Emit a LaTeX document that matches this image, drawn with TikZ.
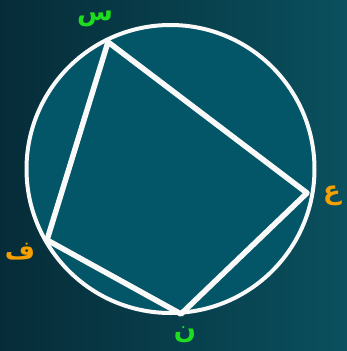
\documentclass[tikz,border=0pt]{standalone}
\usepackage{fontspec}
\TeXXeTstate=1
\newfontfamily\arabicfont[Script=Arabic]{DejaVu Sans}
\definecolor{bgdark}{RGB}{6,44,56}
\definecolor{bglight}{RGB}{10,80,94}
\definecolor{disc}{RGB}{3,86,103}
\definecolor{lblgreen}{RGB}{30,220,30}
\definecolor{lblorange}{RGB}{245,160,0}
\tikzset{
  rim/.style={draw=white!95!gray, line width=4pt},
  side/.style={draw=white!95!gray, line width=5.5pt, line join=round},
  vlabel/.style={font=\arabicfont\bfseries\fontsize{26}{30}\selectfont, inner sep=0pt, anchor=base}
}
\begin{document}
\begin{tikzpicture}[x=1pt,y=-1pt]
\useasboundingbox (0,0) rectangle (347,351);
\shade[shading angle=120, left color=bgdark, right color=bglight] (0,0) rectangle (347,351);
\coordinate (o) at (170.5,169);
\fill[disc] (o) circle (144);
\draw[rim] (o) circle (144);
\coordinate (S) at (108,42);
\coordinate (A) at (307,193);
\coordinate (N) at (181,314);
\coordinate (F) at (47,240);
\draw[side] (S) -- (A) -- (N) -- (F) -- cycle;
\node[vlabel, text=lblgreen] (ls) at (95,20) {\beginR س\endR};
\node[vlabel, text=lblorange] (la) at (332,199) {\beginR ع\endR};
\node[vlabel, text=lblgreen] (ln) at (185,338) {\beginR ن\endR};
\node[vlabel, text=lblorange] (lf) at (20,259) {\beginR ف\endR};
\end{tikzpicture}
\end{document}
